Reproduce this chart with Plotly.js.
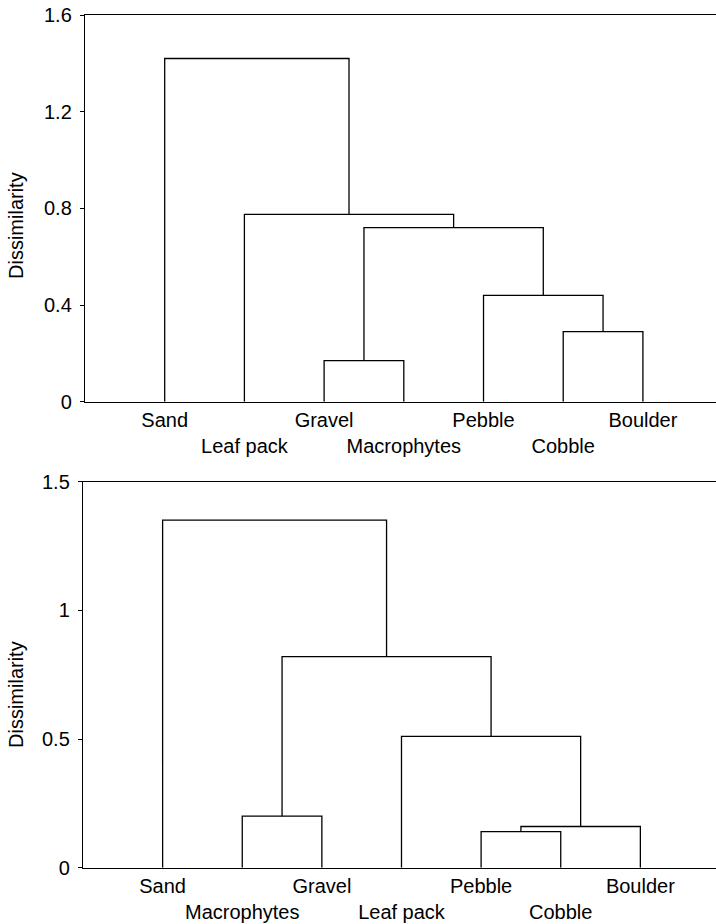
<!DOCTYPE html>
<html>
<head>
<meta charset="utf-8">
<script src="https://cdn.plot.ly/plotly-3.0.1.min.js"></script>
<style>
  html, body { margin: 0; padding: 0; background: #fff; }
  #chart { width: 716px; height: 924px; }
</style>
</head>
<body>
<div id="chart"></div>
<script>
// Upper dendrogram: leaf order and merges [childA, childB, height].
// Indices below the leaf count are leaves; higher ones refer to earlier merges.
const leavesTop = ["Sand", "Leaf pack", "Gravel", "Macrophytes", "Pebble", "Cobble", "Boulder"];
const mergesTop = [
  [2, 3, 0.17],
  [5, 6, 0.29],
  [4, 8, 0.44],
  [7, 9, 0.72],
  [1, 10, 0.775],
  [0, 11, 1.42]
];
const yTickValsTop = [0, 0.4, 0.8, 1.2, 1.6];
const yTickTextTop = ["0", "0.4", "0.8", "1.2", "1.6"];

// Lower dendrogram
const leavesBottom = ["Sand", "Macrophytes", "Gravel", "Leaf pack", "Pebble", "Cobble", "Boulder"];
const mergesBottom = [
  [4, 5, 0.14],
  [7, 6, 0.16],
  [1, 2, 0.20],
  [3, 8, 0.51],
  [9, 10, 0.82],
  [0, 11, 1.35]
];
const yTickValsBottom = [0, 0.5, 1, 1.5];
const yTickTextBottom = ["0", "0.5", "1", "1.5"];

const axisTitle = "Dissimilarity";

// Build the U-shaped links of a dendrogram; each node sits midway between its children.
function dendrogramLines(nLeaves, merges) {
  const nodeX = [], nodeH = [];
  for (let i = 0; i < nLeaves; i++) { nodeX.push(i + 1); nodeH.push(0); }
  const xs = [], ys = [];
  merges.forEach(([a, b, h]) => {
    xs.push(nodeX[a], nodeX[a], nodeX[b], nodeX[b], null);
    ys.push(nodeH[a], h, h, nodeH[b], null);
    nodeX.push((nodeX[a] + nodeX[b]) / 2);
    nodeH.push(h);
  });
  return { xs, ys };
}

// Alternate leaf labels between two rows so long names do not collide.
function staggered(labels) {
  return labels.map((s, i) => (i % 2 ? "<br>" + s : s));
}

const font = { family: "Liberation Sans, Arial, Helvetica, sans-serif", size: 20, color: "#000" };

const upperLinks = dendrogramLines(leavesTop.length, mergesTop);
const lowerLinks = dendrogramLines(leavesBottom.length, mergesBottom);

const lineStyle = { color: "#000", width: 1.3 };

const traces = [
  { x: upperLinks.xs, y: upperLinks.ys, xaxis: "x", yaxis: "y", mode: "lines", line: lineStyle,
    hoverinfo: "skip", showlegend: false },
  { x: lowerLinks.xs, y: lowerLinks.ys, xaxis: "x2", yaxis: "y2", mode: "lines", line: lineStyle,
    hoverinfo: "skip", showlegend: false }
];

const H = 924, W = 716;

function xAxis(domainLeft, rangeEnd, labels, anchor) {
  return {
    domain: [domainLeft / W, 1],
    range: [0, rangeEnd],
    anchor: anchor,
    showline: true, mirror: true, linecolor: "#000", linewidth: 1,
    showgrid: false, zeroline: false,
    ticks: "", tickmode: "array", tickangle: 0,
    tickvals: labels.map((_, i) => i + 1),
    ticktext: staggered(labels),
    tickfont: font,
    ticklabelstandoff: 0
  };
}

function yAxis(topPx, bottomPx, maxVal, vals, text, anchor) {
  return {
    domain: [1 - bottomPx / H, 1 - topPx / H],
    range: [0, maxVal],
    anchor: anchor,
    showline: true, linecolor: "#000", linewidth: 1.2,
    showgrid: false, zeroline: false,
    ticks: "outside", ticklen: 4, tickwidth: 1, tickcolor: "#000",
    tickmode: "array", tickvals: vals, ticktext: text,
    tickfont: font,
    ticklabelstandoff: 4
  };
}

const layout = {
  width: W, height: H,
  margin: { l: 0, r: 0, t: 0, b: 0 },
  paper_bgcolor: "#fff", plot_bgcolor: "#fff",
  font: font,
  xaxis: xAxis(85, 7.917, leavesTop, "y"),
  yaxis: yAxis(15, 401.7, 1.6, yTickValsTop, yTickTextTop, "x"),
  xaxis2: xAxis(83, 7.95, leavesBottom, "y2"),
  yaxis2: yAxis(481.6, 867.7, 1.5, yTickValsBottom, yTickTextBottom, "x2"),
  annotations: [
    { text: axisTitle, xref: "paper", yref: "paper", x: 16 / W, y: 1 - 226 / H,
      xanchor: "center", yanchor: "middle", textangle: -90, showarrow: false, font: font },
    { text: axisTitle, xref: "paper", yref: "paper", x: 16 / W, y: 1 - 695 / H,
      xanchor: "center", yanchor: "middle", textangle: -90, showarrow: false, font: font }
  ]
};

Plotly.newPlot("chart", traces, layout, { staticPlot: true, displayModeBar: false });
</script>
</body>
</html>
